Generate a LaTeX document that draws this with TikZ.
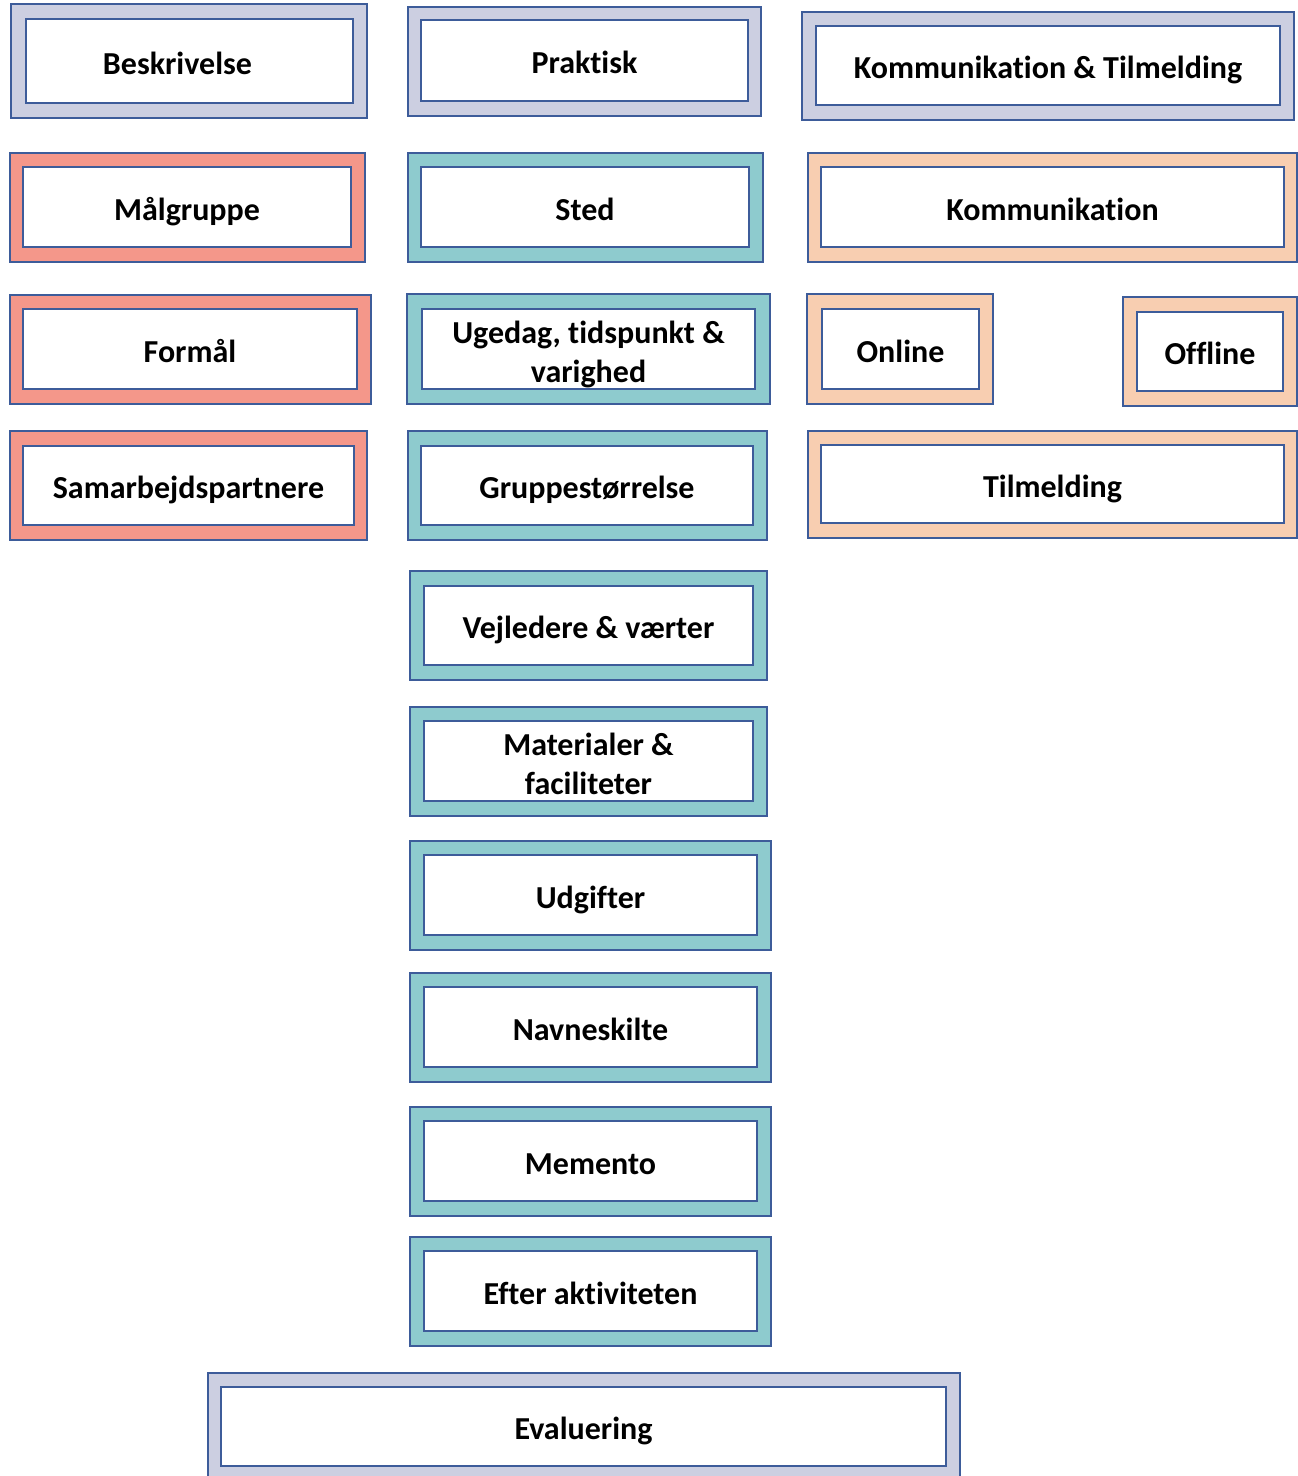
\documentclass[tikz,border=0pt]{standalone}
\usepackage{fontspec}
\setmainfont{Carlito}[Ligatures=NoCommon]
\usetikzlibrary{fit}
\definecolor{bordc}{HTML}{3D5C9A}
\definecolor{lavc}{HTML}{CCCFE1}
\definecolor{salc}{HTML}{F4978A}
\definecolor{tealc}{HTML}{8ECBCE}
\definecolor{peachc}{HTML}{F8CEB1}
\tikzset{
  outerbox/.style={draw=bordc, line width=2pt, inner sep=0pt},
  lav/.style={outerbox, fill=lavc},
  sal/.style={outerbox, fill=salc},
  teal/.style={outerbox, fill=tealc},
  peach/.style={outerbox, fill=peachc},
  innerbox/.style={draw=bordc, line width=2.5pt, fill=white, inner sep=0pt},
  lbl/.style={font=\fontsize{32}{38.5}\selectfont\bfseries, align=center,
    text height=27pt, text depth=6.4pt, inner sep=0pt, yshift=-3pt},
  twoline/.style={yshift=-20pt}
}
\newcommand\mybox[6][]{%
  \node[#3, fit={#4}] (#2o) {};
  \node[innerbox, fit={#5}] (#2) {};
  \node[lbl, #1] (#2t) at (#2.center) {#6};}
\begin{document}
\begin{tikzpicture}[x=1pt, y=-1pt]
\useasboundingbox (0,0) rectangle (1298,1476);
\clip (0,0) rectangle (1298,1476);
\fill[white] (0,0) rectangle (1298,1476);
% row 1
\mybox[xshift=-12pt]{besk}{lav}{(11,4) (367,118)}{(26,19) (353,103)}{Beskrivelse}
\mybox{prak}{lav}{(408,7) (761,116)}{(421,20) (748,101)}{Praktisk}
\mybox{komtil}{lav}{(802,12) (1294,120)}{(816,26) (1280,105)}{Kommunikation \& Tilmelding}
% row 2
\mybox{malg}{sal}{(10,153) (365,262)}{(23,167) (351,247)}{Målgruppe}
\mybox{sted}{teal}{(408,153) (763,262)}{(421,167) (749,247)}{Sted}
\mybox{komm}{peach}{(808,153) (1297,262)}{(821,167) (1284,247)}{Kommunikation}
% row 3
\mybox{formaal}{sal}{(10,295) (371,404)}{(23,309) (357,389)}{Formål}
\mybox[twoline]{ugedag}{teal}{(407,294) (770,404)}{(422,309) (755,389)}{Ugedag, tidspunkt \&\\varighed}
\mybox{online}{peach}{(807,294) (993,404)}{(822,309) (979,389)}{Online}
\mybox{offline}{peach}{(1123,297) (1297,406)}{(1137,312) (1283,391)}{Offline}
% row 4
\mybox{samarb}{sal}{(10,431) (367,540)}{(23,446) (354,525)}{Samarbejdspartnere}
\mybox{gruppe}{teal}{(408,431) (767,540)}{(421,446) (753,525)}{Gruppestørrelse}
\mybox{tilm}{peach}{(808,431) (1297,538)}{(821,445) (1284,523)}{Tilmelding}
% middle column
\mybox{vejl}{teal}{(410,571) (767,680)}{(424,586) (753,665)}{Vejledere \& værter}
\mybox[twoline]{mat}{teal}{(410,707) (767,816)}{(424,721) (753,801)}{Materialer \&\\faciliteter}
\mybox{udg}{teal}{(410,841) (771,950)}{(424,855) (757,935)}{Udgifter}
\mybox{navn}{teal}{(410,973) (771,1082)}{(424,987) (757,1067)}{Navneskilte}
\mybox{mem}{teal}{(410,1107) (771,1216)}{(424,1121) (757,1201)}{Memento}
\mybox{efter}{teal}{(410,1237) (771,1346)}{(424,1251) (757,1331)}{Efter aktiviteten}
% bottom
\mybox{eval}{lav}{(208,1373) (960,1485)}{(221,1387) (946,1466)}{Evaluering}
\end{tikzpicture}
\end{document}
